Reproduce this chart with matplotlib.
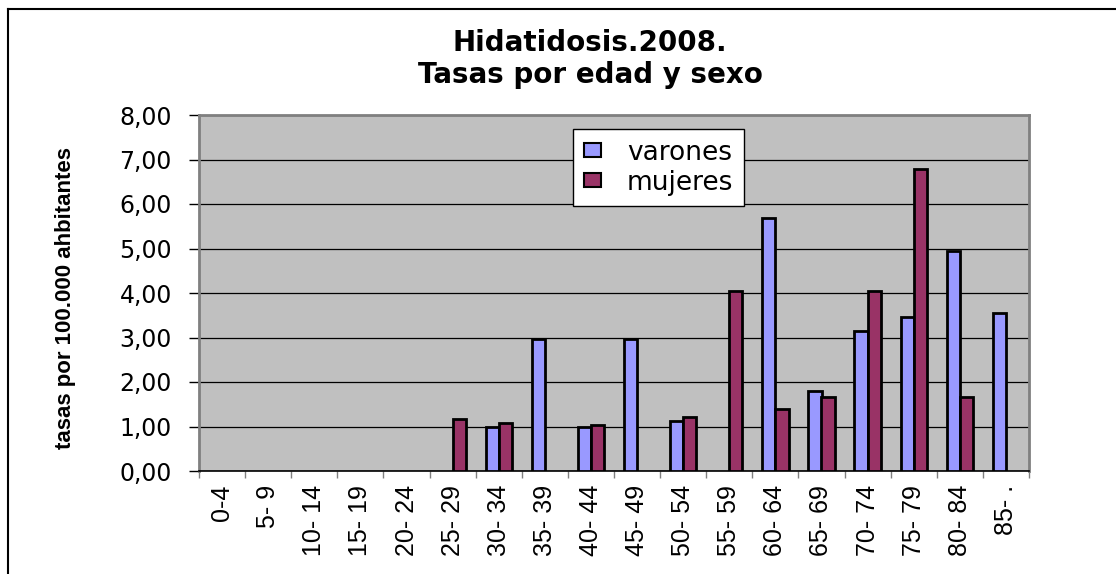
import matplotlib
matplotlib.use("Agg")
import matplotlib.pyplot as plt
import numpy as np
from matplotlib.lines import Line2D
from matplotlib.patches import Patch

# ---- data ----
categories = ["0-4", "5- 9", "10- 14", "15- 19", "20- 24", "25- 29", "30- 34",
              "35- 39", "40- 44", "45- 49", "50- 54", "55- 59", "60- 64",
              "65- 69", "70- 74", "75- 79", "80- 84", "85- ."]
varones = [0, 0, 0, 0, 0, 0, 0.98, 2.96, 0.98, 2.96, 1.12, 0, 5.69, 1.79,
           3.14, 3.45, 4.94, 3.54]
mujeres = [0, 0, 0, 0, 0, 1.16, 1.07, 0, 1.03, 0, 1.21, 4.04, 1.39, 1.66,
           4.04, 6.78, 1.66, 0]
yticks = [0, 1, 2, 3, 4, 5, 6, 7, 8]
ytick_labels = ["0,00", "1,00", "2,00", "3,00", "4,00", "5,00", "6,00",
                "7,00", "8,00"]
title = "Hidatidosis.2008.\nTasas por edad y sexo"
ylabel = "tasas por 100.000 ahbitantes"
series_names = ["varones", "mujeres"]

# ---- figure ----
W, H = 1116, 574
fig = plt.figure(figsize=(W / 100, H / 100), dpi=100)
fig.patch.set_facecolor("white")

L, R, T, B = 199, 1029, 115, 471
ax = fig.add_axes([L / W, 1 - B / H, (R - L) / W, (B - T) / H])
ax.set_facecolor("#C0C0C0")

n = len(categories)
x = np.arange(n)
w = 0.2857
col_v = "#9999FF"
col_m = "#993366"
v_arr = np.array(varones, dtype=float)
m_arr = np.array(mujeres, dtype=float)
v_bars = ax.bar(x - w / 2, v_arr, width=w, color=col_v, edgecolor="black",
                linewidth=2.0, zorder=3)
m_bars = ax.bar(x + w / 2, m_arr, width=w, color=col_m, edgecolor="black",
                linewidth=2.0, zorder=3)
# zero-valued bars are not drawn (as in the original chart)
for bars, vals in ((v_bars, v_arr), (m_bars, m_arr)):
    for b, v in zip(bars, vals):
        if v == 0:
            b.set_visible(False)

ax.set_xlim(-0.5, n - 0.5)
ax.set_ylim(0, 8)
ax.set_yticks(yticks)
ax.set_yticklabels(ytick_labels, fontsize=17, family="DejaVu Sans")
ax.yaxis.grid(True, color="black", linewidth=0.9, zorder=1)
ax.set_axisbelow(True)

# x: major ticks on boundaries, labels at centres
ax.set_xticks(np.arange(-0.5, n, 1.0))
ax.set_xticklabels([])
ax.set_xticks(x, minor=True)
ax.set_xticklabels(categories, minor=True, rotation=90, fontsize=18,
                   family="Liberation Sans", va="top", ha="center")
ax.tick_params(axis="x", which="minor", length=0, pad=10)
ax.tick_params(axis="x", which="major", length=5, width=1, color="#808080",
               direction="out")
ax.tick_params(axis="y", length=7.5, width=1, color="black", pad=12,
               direction="out")

ax.spines["bottom"].set_color("black")
ax.spines["bottom"].set_linewidth(1.2)
for s in ["top", "right", "left"]:
    ax.spines[s].set_color("#808080")
    ax.spines[s].set_linewidth(2.0)

# y label
fig.text(66 / W, 1 - 298 / H, ylabel, rotation=90, ha="center", va="center",
         fontsize=16, fontweight="bold", family="Liberation Sans")

# title
fig.text(590 / W, 1 - 59 / H, title, ha="center", va="center",
         fontsize=20, fontweight="bold", family="DejaVu Sans",
         linespacing=1.15)

# legend
handles = [Patch(facecolor=col_v, edgecolor="black", linewidth=1.5),
           Patch(facecolor=col_m, edgecolor="black", linewidth=1.5)]
leg = fig.legend(handles, series_names, loc="upper left",
                 bbox_to_anchor=(573 / W, 1 - 129 / H),
                 bbox_transform=fig.transFigure,
                 prop={"family": "DejaVu Sans", "size": 19},
                 frameon=True, fancybox=False, shadow=False,
                 handlelength=0.65, handleheight=0.42, handletextpad=1.0,
                 labelspacing=0.15, borderpad=0.4, borderaxespad=0)
leg.get_frame().set_edgecolor("black")
leg.get_frame().set_linewidth(1.0)
leg.get_frame().set_facecolor("white")
leg.get_frame().set_alpha(1)

# outer frame lines
fig.add_artist(Line2D([8 / W, 1.0], [1 - 9 / H, 1 - 9 / H], color="black",
                      linewidth=1.5, transform=fig.transFigure))
fig.add_artist(Line2D([8 / W, 8 / W], [1 - 9 / H, 0.0], color="black",
                      linewidth=1.5, transform=fig.transFigure))

fig.savefig("out.png", dpi=100, facecolor="white")
